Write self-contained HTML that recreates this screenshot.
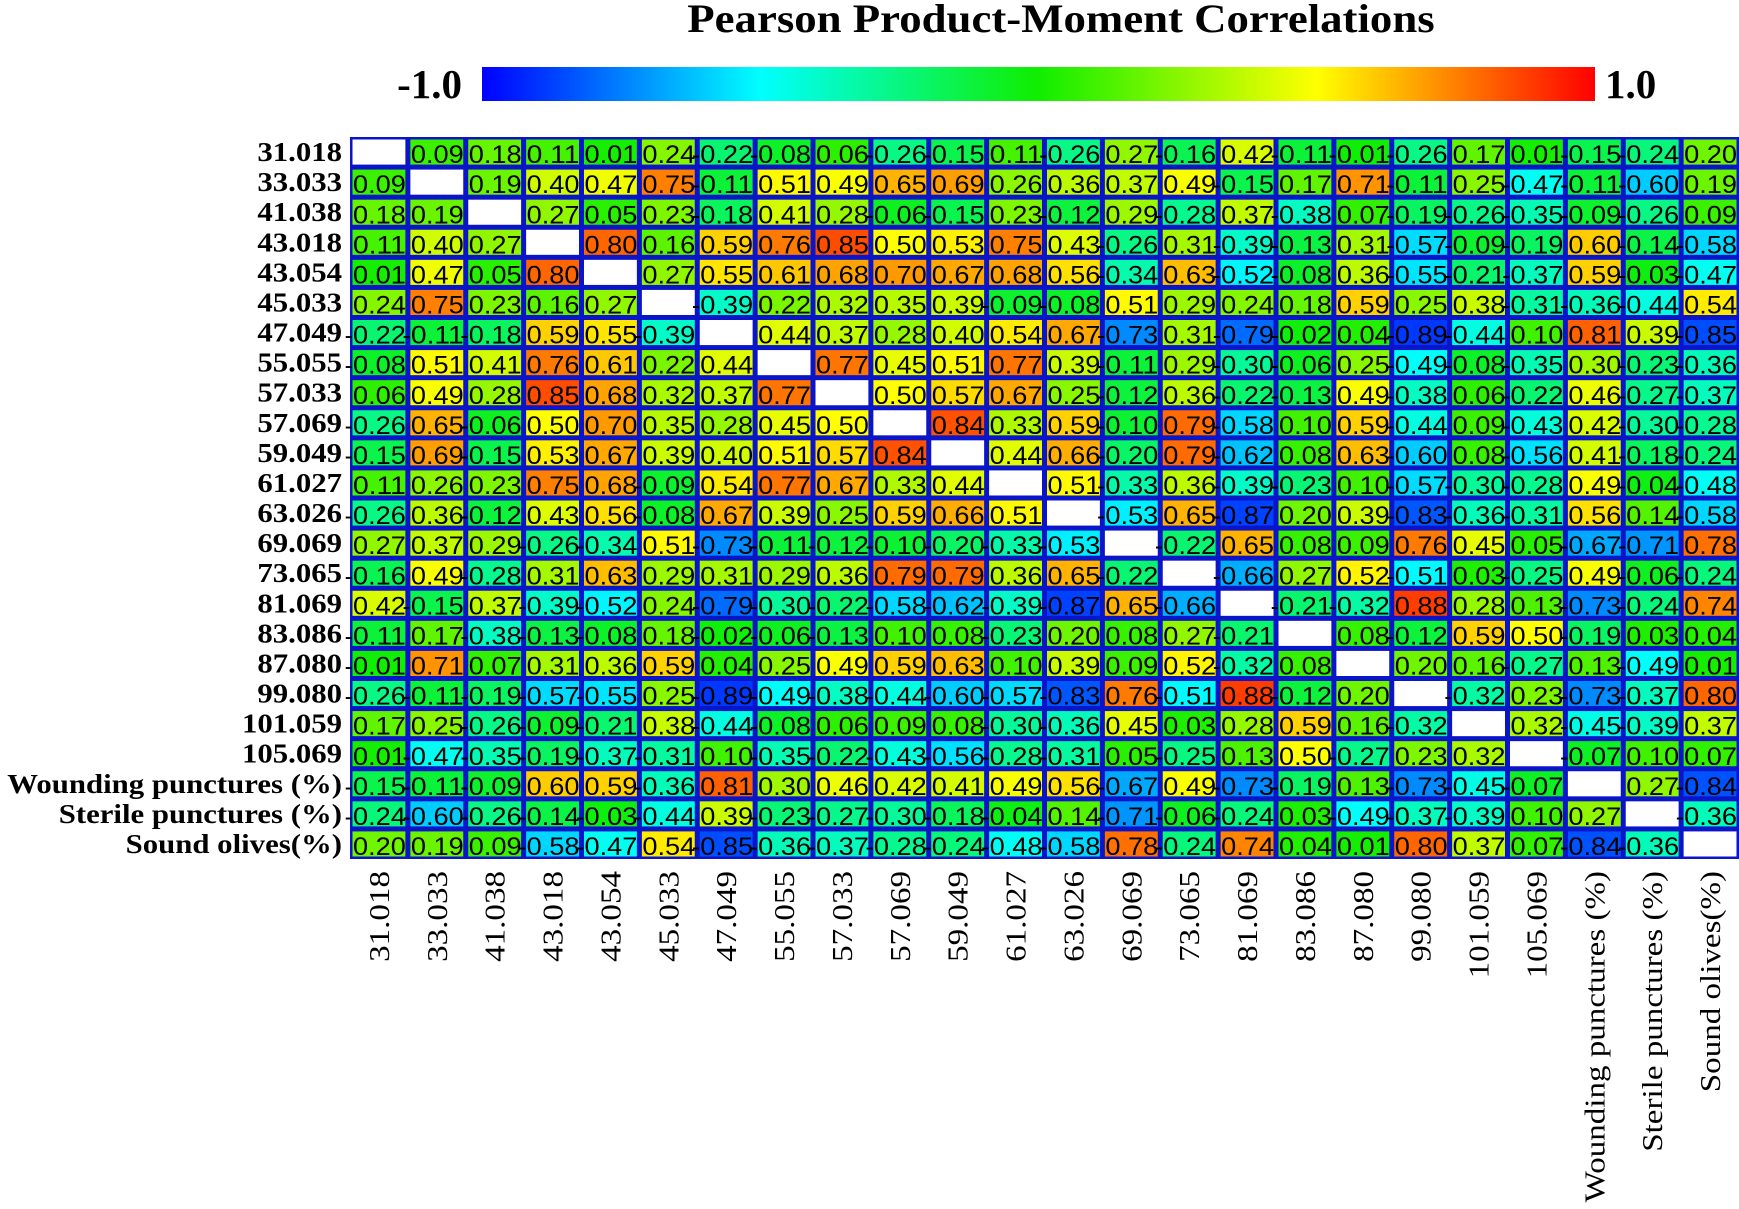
<!DOCTYPE html>
<html><head><meta charset="utf-8">
<style>
html,body{margin:0;padding:0;background:#fff;}
svg{display:block;}
</style></head>
<body>
<svg id="chart" width="1739" height="1209" viewBox="0 0 1739 1209" xmlns="http://www.w3.org/2000/svg">
<defs>
<linearGradient id="jet" x1="0" x2="1" y1="0" y2="0">
<stop offset="0" stop-color="#0000ff"/>
<stop offset="0.25" stop-color="#00ffff"/>
<stop offset="0.5" stop-color="#10ee00"/>
<stop offset="0.75" stop-color="#ffff00"/>
<stop offset="1" stop-color="#ff0000"/>
</linearGradient>
</defs>
<text id="title" x="1061" y="32" text-anchor="middle" font-family="Liberation Serif, serif" font-weight="bold" font-size="40">Pearson Product-Moment Correlations</text>
<rect x="482" y="67" width="1113" height="34" fill="url(#jet)"/>
<text x="462" y="98" text-anchor="end" font-family="Liberation Serif, serif" font-weight="bold" font-size="41">-1.0</text>
<text x="1605" y="98" font-family="Liberation Serif, serif" font-weight="bold" font-size="41">1.0</text>
<g id="grid"></g>
</svg>
<script>
const labels = ["31.018","33.033","41.038","43.018","43.054","45.033","47.049","55.055","57.033","57.069","59.049","61.027","63.026","69.069","73.065","81.069","83.086","87.080","99.080","101.059","105.069","Wounding punctures (%)","Sterile punctures (%)","Sound olives(%)"];
// lower triangle rows
const lower = [
[],
[0.09],
[0.18,0.19],
[0.11,0.40,0.27],
[0.01,0.47,0.05,0.80],
[0.24,0.75,0.23,0.16,0.27],
[-0.22,-0.11,-0.18,0.59,0.55,-0.39],
[-0.08,0.51,0.41,0.76,0.61,0.22,0.44],
[0.06,0.49,0.28,0.85,0.68,0.32,0.37,0.77],
[-0.26,0.65,-0.06,0.50,0.70,0.35,0.28,0.45,0.50],
[-0.15,0.69,-0.15,0.53,0.67,0.39,0.40,0.51,0.57,0.84],
[0.11,0.26,0.23,0.75,0.68,-0.09,0.54,0.77,0.67,0.33,0.44],
[-0.26,0.36,-0.12,0.43,0.56,-0.08,0.67,0.39,0.25,0.59,0.66,0.51],
[0.27,0.37,0.29,-0.26,-0.34,0.51,-0.73,-0.11,-0.12,-0.10,-0.20,-0.33,-0.53],
[-0.16,0.49,-0.28,0.31,0.63,0.29,0.31,0.29,0.36,0.79,0.79,0.36,0.65,-0.22],
[0.42,-0.15,0.37,-0.39,-0.52,0.24,-0.79,-0.30,-0.22,-0.58,-0.62,-0.39,-0.87,0.65,-0.66],
[-0.11,0.17,-0.38,-0.13,-0.08,0.18,-0.02,-0.06,-0.13,0.10,0.08,-0.23,0.20,0.08,0.27,-0.21],
[-0.01,0.71,0.07,0.31,0.36,0.59,0.04,0.25,0.49,0.59,0.63,0.10,0.39,0.09,0.52,-0.32,0.08],
[-0.26,-0.11,-0.19,-0.57,-0.55,0.25,-0.89,-0.49,-0.38,-0.44,-0.60,-0.57,-0.83,0.76,-0.51,0.88,-0.12,0.20],
[0.17,0.25,-0.26,-0.09,-0.21,0.38,-0.44,-0.08,0.06,0.09,0.08,-0.30,-0.36,0.45,0.03,0.28,0.59,0.16,-0.32],
[0.01,-0.47,-0.35,-0.19,-0.37,-0.31,0.10,-0.35,-0.22,-0.43,-0.56,-0.28,-0.31,0.05,-0.25,0.13,0.50,-0.27,0.23,0.32],
[-0.15,-0.11,-0.09,0.60,0.59,-0.36,0.81,0.30,0.46,0.42,0.41,0.49,0.56,-0.67,0.49,-0.73,-0.19,0.13,-0.73,-0.45,-0.07],
[-0.24,-0.60,-0.26,-0.14,-0.03,-0.44,0.39,-0.23,-0.27,-0.30,-0.18,-0.04,0.14,-0.71,-0.06,-0.24,0.03,-0.49,-0.37,-0.39,0.10,0.27],
[0.20,0.19,0.09,-0.58,-0.47,0.54,-0.85,-0.36,-0.37,-0.28,-0.24,-0.48,-0.58,0.78,-0.24,0.74,0.04,0.01,0.80,0.37,0.07,-0.84,-0.36]
];
const NS="http://www.w3.org/2000/svg";
const n = labels.length;
const gx0=350, gx1=1739, gy0=137, gy1=859;
const cw=(gx1-gx0)/n, ch=(gy1-gy0)/n;
const xPos=i=>gx0+i*cw, yPos=i=>gy0+i*ch;
function val(i,j){ if(i===j) return null; return i>j? lower[i][j] : lower[j][i]; }
const stops=[[-1,[0,0,255]],[-0.5,[0,255,255]],[0,[16,238,0]],[0.5,[255,255,0]],[1,[255,0,0]]];
function color(v){
  for(let k=0;k<stops.length-1;k++){
    const [a,ca]=stops[k],[b,cb]=stops[k+1];
    if(v<=b){const t=(v-a)/(b-a);return 'rgb('+ca.map((c,m)=>Math.round(c+(cb[m]-c)*t)).join(',')+')';}
  }
  return 'rgb(255,0,0)';
}
function stretch(el,f){ const L=el.getComputedTextLength(); el.setAttribute('textLength',L*f); el.setAttribute('lengthAdjust','spacingAndGlyphs'); }
stretch(document.getElementById('title'),1.12);
const g=document.getElementById('grid');
const bg=document.createElementNS(NS,'rect');
bg.setAttribute('x',gx0);bg.setAttribute('y',gy0);bg.setAttribute('width',gx1-gx0);bg.setAttribute('height',gy1-gy0);bg.setAttribute('fill','#0a14c8');


g.appendChild(bg);
for(let i=0;i<n;i++){
  for(let j=0;j<n;j++){
    const v=val(i,j);
    const r=document.createElementNS(NS,'rect');
    r.setAttribute('x',xPos(j)+2.5);r.setAttribute('y',yPos(i)+2.5);
    r.setAttribute('width',cw-5);r.setAttribute('height',ch-5);
    r.setAttribute('fill',v===null?'#ffffff':color(v));
    
    
    g.appendChild(r);
    if(v!==null){
      const t=document.createElementNS(NS,'text');
      t.setAttribute('x',xPos(j)+3);t.setAttribute('y',yPos(i)+ch-4);
      t.setAttribute('font-family','Liberation Sans, sans-serif');t.setAttribute('font-size','25');
      t.setAttribute('textLength',cw-5);t.setAttribute('lengthAdjust','spacingAndGlyphs');
      t.textContent=Math.abs(v).toFixed(2);
      
      
      g.appendChild(t);
      if(v<0){
        const m=document.createElementNS(NS,'text');
        m.setAttribute('x',xPos(j)+3);m.setAttribute('y',yPos(i)+ch-4);
        m.setAttribute('text-anchor','end');
        m.setAttribute('font-family','Liberation Sans, sans-serif');m.setAttribute('font-size','25');
        m.textContent='-';
        
        
        g.appendChild(m);
      }
    }
  }
  const rl=document.createElementNS(NS,'text');
  rl.setAttribute('x',342);rl.setAttribute('y',yPos(i)+ch/2+9);
  rl.setAttribute('text-anchor','end');
  rl.setAttribute('font-family','Liberation Serif, serif');rl.setAttribute('font-weight','bold');rl.setAttribute('font-size','27');
  rl.textContent=labels[i];
  
  
  g.appendChild(rl);
  stretch(rl,1.14);
  const cl=document.createElementNS(NS,'text');
  const cx=xPos(i)+cw/2+10, cy=871;
  cl.setAttribute('x',cx);cl.setAttribute('y',cy);
  cl.setAttribute('text-anchor','end');
  cl.setAttribute('transform','rotate(-90 '+cx+' '+cy+')');
  cl.setAttribute('font-family','Liberation Serif, serif');cl.setAttribute('font-size','28');
  cl.textContent=labels[i];
  
  
  g.appendChild(cl);
  stretch(cl,1.18);
}
</script>
</body></html>
